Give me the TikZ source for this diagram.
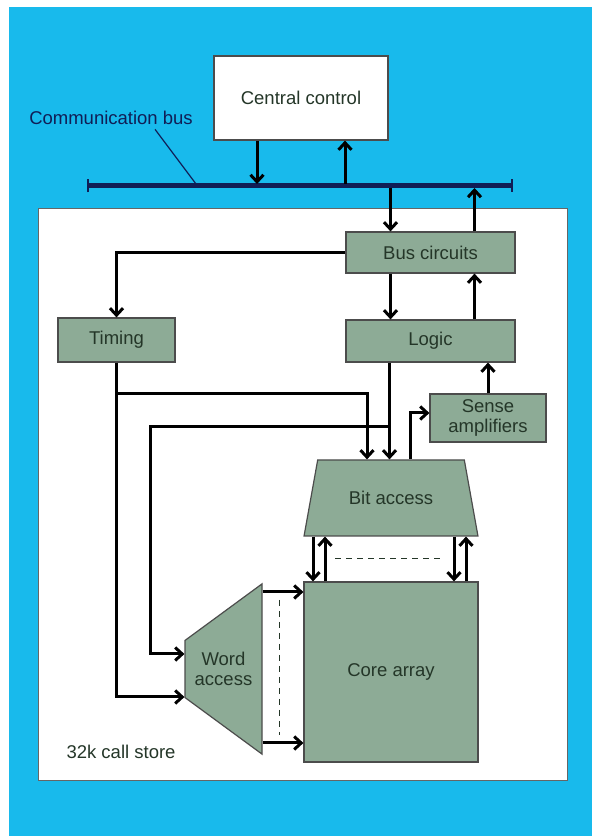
\documentclass[tikz,border=0pt]{standalone}
\usepackage{fontspec}
\setmainfont{Liberation Sans}
\usetikzlibrary{arrows.meta,shapes.geometric,positioning}
\definecolor{bgblue}{RGB}{24,186,236}
\definecolor{boxgreen}{RGB}{141,171,150}
\definecolor{txtgreen}{RGB}{36,54,40}
\definecolor{busblue}{RGB}{16,30,86}
\tikzset{unit/.style={draw=black!70,line width=1.2pt,fill=boxgreen,text=txtgreen,font=\fontsize{18.5}{20}\selectfont,inner sep=0pt}}
\tikzset{arr/.style={line width=3pt,-{Straight Barb[length=7pt,width=13pt]}}}
\tikzset{accessbox/.style={unit,trapezium,trapezium left angle=60,trapezium right angle=60,trapezium stretches=true}}

\begin{document}
\begin{tikzpicture}[x=1pt,y=1pt]
\useasboundingbox (0,0) rectangle (592,836);
\fill[white] (0,0) rectangle (592,836);
\fill[bgblue] (9,0) rectangle (592,829);
\draw[black!60,fill=white,line width=1pt] (38,55) rectangle (567,627);

% central control and bus
\node[unit,fill=white,minimum width=174pt,minimum height=84pt] (cc) at (301,738) {Central control};
\node[font=\fontsize{18.5}{20}\selectfont,text=busblue] (cbus) at (111,718) {Communication bus};
\coordinate (busL) at (87,650);
\coordinate (busR) at (513,650);
\coordinate (busP) at (196,652);
\draw[busblue,line width=5pt,{Bar[width=13pt,line width=2pt]}-{Bar[width=13pt,line width=2pt]}] (busL) -- (busR);
\draw[busblue,line width=1.2pt] ([xshift=44pt,yshift=-1pt]cbus.south) -- (busP);

% call store blocks
\node[unit,minimum width=169pt,minimum height=41pt] (bc) at (430.5,583.5) {Bus circuits};
\node[unit,minimum width=169pt,minimum height=42pt] (lg) at (430.5,495) {Logic};
\node[unit,minimum width=117pt,minimum height=44pt] (tm) at (116.5,496) {Timing};
\node[unit,minimum width=116pt,minimum height=48pt,align=center] (sa) at (488,418) {Sense\\amplifiers};
\node[accessbox,minimum width=174pt,minimum height=76pt] (ba) at (391,338) {Bit access};
\node[unit,minimum width=174pt,minimum height=180pt] (ca) at (391,164) {Core array};
\node[accessbox,shape border rotate=90,minimum width=172pt,minimum height=77pt,align=center] (wa) at (223.5,167) {Word\\access};
\node[anchor=west,text=txtgreen,font=\fontsize{18.5}{20}\selectfont] (store) at (63,84) {32k call store};

\draw[arr,shorten >=2pt] ([xshift=-44pt]cc.south) -- ([xshift=-44pt]cc.south |- busL);
\draw[arr,shorten <=2pt] ([xshift=44pt]cc.south |- busL) -- ([xshift=44pt]cc.south);
\draw[arr,shorten <=2pt] ([xshift=-40pt]bc.north |- busL) -- ([xshift=-40pt]bc.north);
\draw[arr,shorten >=2pt] ([xshift=44pt]bc.north) -- ([xshift=44pt]bc.north |- busL);

\draw[arr] (bc.west) -| (tm.north);
\draw[arr] ([xshift=-40pt]bc.south) -- ([xshift=-40pt]lg.north);
\draw[arr] ([xshift=44pt]lg.north) -- ([xshift=44pt]bc.south);
\draw[arr] (sa.north) -- (sa.north |- lg.south);
\draw[arr] ([xshift=-41pt]lg.south) -- ([xshift=-41pt]lg.south |- ba.north);
\draw[arr] ([xshift=19pt]ba.north) |- ([yshift=5pt]sa.west);

\coordinate (tjoin) at (tm.south |- 0,442);
\coordinate (ljoin) at ([xshift=-41pt]lg.south |- 0,409);
\draw[arr] (tm.south) |- ([yshift=-28pt]wa.west);
\draw[arr] (tjoin) -| ([xshift=-24pt]ba.north);
\draw[arr] (ljoin) -- (150,409) |- ([yshift=15pt]wa.west);

\foreach \dx in {-78,63}
         {
           \draw[arr] ([xshift=\dx pt]ba.south) -- ([xshift=\dx pt]ba.south |- ca.north);
           \draw[arr] ([xshift=\dx pt+12pt]ca.north) -- ([xshift=\dx pt+12pt]ca.north |- ba.south);
         }
\draw[arr] ([yshift=80pt]ca.west -| wa.east) -- ([yshift=80pt]ca.west);
\draw[arr] ([yshift=-71pt]ca.west -| wa.east) -- ([yshift=-71pt]ca.west);

\draw[txtgreen,line width=1pt,dash pattern=on 6pt off 5pt] (335,277) -- (443,277);
\draw[txtgreen,line width=1pt,dash pattern=on 6pt off 5pt] (279,236) -- (279,101);

\end{tikzpicture}
\end{document}
